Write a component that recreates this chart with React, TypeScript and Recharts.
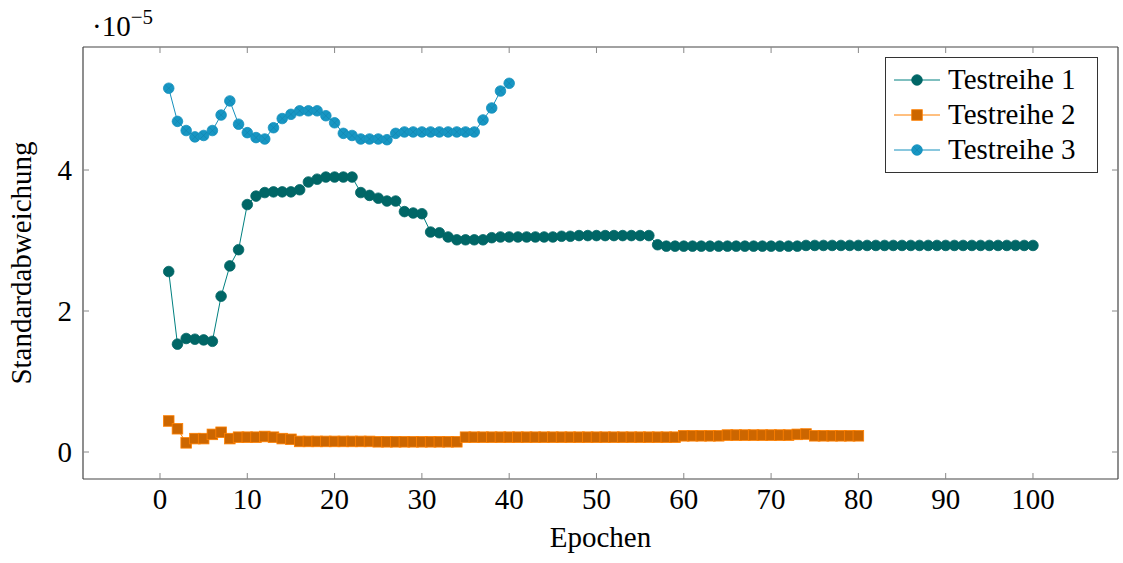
import { Line, LineChart, XAxis, YAxis } from 'recharts'

// values in units of 1e-5
const EPOCHS = Array.from({ length: 100 }, (_, i) => i + 1)

const TESTREIHE_1 = [
  2.56, 1.53, 1.61, 1.6, 1.59, 1.57, 2.21, 2.64, 2.87, 3.51,
  3.63, 3.68, 3.69, 3.69, 3.69, 3.72, 3.83, 3.87, 3.9, 3.9,
  3.9, 3.9, 3.68, 3.64, 3.6, 3.56, 3.56, 3.41, 3.39, 3.38,
  3.12, 3.11, 3.05, 3.01, 3.01, 3.01, 3.01, 3.04, 3.05, 3.05,
  3.05, 3.05, 3.05, 3.05, 3.05, 3.06, 3.06, 3.07, 3.07, 3.07,
  3.07, 3.07, 3.07, 3.07, 3.07, 3.07, 2.94, 2.92, 2.92, 2.92,
  2.92, 2.92, 2.92, 2.92, 2.92, 2.92, 2.92, 2.92, 2.92, 2.92,
  2.92, 2.92, 2.92, 2.93, 2.93, 2.93, 2.93, 2.93, 2.93, 2.93,
  2.93, 2.93, 2.93, 2.93, 2.93, 2.93, 2.93, 2.93, 2.93, 2.93,
  2.93, 2.93, 2.93, 2.93, 2.93, 2.93, 2.93, 2.93, 2.93, 2.93,
]

const TESTREIHE_2 = [
  0.44, 0.33, 0.13, 0.19, 0.19, 0.25, 0.28, 0.19, 0.21, 0.21,
  0.21, 0.22, 0.21, 0.19, 0.18, 0.15, 0.15, 0.15, 0.15, 0.15,
  0.15, 0.15, 0.15, 0.15, 0.145, 0.145, 0.145, 0.145, 0.145, 0.145,
  0.145, 0.145, 0.145, 0.145, 0.21, 0.21, 0.21, 0.21, 0.21, 0.21,
  0.21, 0.21, 0.21, 0.21, 0.21, 0.21, 0.21, 0.21, 0.21, 0.21,
  0.21, 0.21, 0.21, 0.21, 0.21, 0.21, 0.21, 0.21, 0.21, 0.23,
  0.23, 0.23, 0.23, 0.23, 0.24, 0.24, 0.24, 0.24, 0.24, 0.24,
  0.24, 0.24, 0.25, 0.255, 0.23, 0.23, 0.23, 0.23, 0.23, 0.23,
]

const TESTREIHE_3 = [
  5.16, 4.69, 4.56, 4.47, 4.49, 4.56, 4.78, 4.98, 4.65, 4.53,
  4.46, 4.44, 4.6, 4.73, 4.79, 4.84, 4.84, 4.84, 4.77, 4.67,
  4.52, 4.49, 4.44, 4.44, 4.44, 4.43, 4.52, 4.54, 4.54, 4.54,
  4.54, 4.54, 4.54, 4.54, 4.54, 4.54, 4.71, 4.88, 5.12, 5.23,
]

const X_TICKS = [0, 10, 20, 30, 40, 50, 60, 70, 80, 90, 100]
const Y_TICKS = [0, 2, 4]
const X_DOMAIN = [-8.82, 109.74]
const Y_DOMAIN = [-0.383, 5.745]

const data = EPOCHS.map((epoch, i) => ({
  epoch,
  t1: TESTREIHE_1[i],
  t2: TESTREIHE_2[i],
  t3: TESTREIHE_3[i],
}))

const SERIES = [
  { key: 't1', name: 'Testreihe 1', line: '#008080', fill: '#006666', stroke: '#006666', shape: 'circle' },
  { key: 't2', name: 'Testreihe 2', line: '#ff8000', fill: '#cc6600', stroke: '#ff8000', shape: 'square' },
  { key: 't3', name: 'Testreihe 3', line: '#1590bd', fill: '#1796c3', stroke: '#1590bd', shape: 'otimes' },
]

const FONT = '"Liberation Serif", "Times New Roman", serif'

function Marker({ cx, cy, s }: { cx: number; cy: number; s: (typeof SERIES)[number] }) {
  const r = 5.3
  if (s.shape === 'square') {
    return <rect x={cx - r} y={cy - r} width={2 * r} height={2 * r} fill={s.fill} stroke={s.stroke} strokeWidth={0.8} />
  }
  const d = r * 0.7
  return (
    <g>
      <circle cx={cx} cy={cy} r={r} fill={s.fill} stroke={s.stroke} strokeWidth={0.8} />
      {s.shape === 'otimes' && (
        <path
          d={`M${cx - d},${cy - d}L${cx + d},${cy + d}M${cx - d},${cy + d}L${cx + d},${cy - d}`}
          stroke="#1383ad"
          strokeWidth={0.6}
        />
      )}
    </g>
  )
}

const makeDot = (s: (typeof SERIES)[number]) => (props: any) => {
  const { cx, cy, index, value } = props
  if (cx == null || cy == null || value == null) return <g key={index} />
  return (
    <g key={index}>
      <Marker cx={cx} cy={cy} s={s} />
    </g>
  )
}

// legend box drawn as overlay so it doesn't eat plot space
const LegendBox = () => (
  <div
    style={{
      position: 'absolute',
      left: 885,
      top: 57,
      width: 213,
      height: 116,
      border: '1px solid #333',
      background: '#fff',
      padding: '4px 0',
      fontFamily: FONT,
      boxSizing: 'border-box',
    }}
  >
    {SERIES.map((s) => (
      <div key={s.key} style={{ display: 'flex', alignItems: 'center', height: 35, paddingLeft: 8 }}>
        <svg width={46} height={20} style={{ overflow: 'visible' }}>
          <line x1={0} x2={46} y1={10} y2={10} stroke={s.line} strokeWidth={1} />
          <Marker cx={23} cy={10} s={s} />
        </svg>
        <span style={{ marginLeft: 8, fontSize: 29, color: '#000', lineHeight: '35px' }}>{s.name}</span>
      </div>
    ))}
  </div>
)

const axisLine = { stroke: '#444', strokeWidth: 1.2 }
const tickLine = { stroke: '#888', strokeWidth: 1 }

export default function App() {
  return (
    <div style={{ position: 'absolute', left: 0, top: 0, width: 1123, height: 563, fontFamily: FONT, background: '#fff' }}>
      <LineChart width={1123} height={563} data={data} margin={{ top: 17, right: 0, bottom: 0, left: 0 }}>
        <XAxis
          xAxisId="b"
          dataKey="epoch"
          type="number"
          domain={X_DOMAIN}
          allowDataOverflow
          ticks={X_TICKS}
          height={84}
          tickSize={-6}
          tickMargin={15}
          tick={{ fill: '#000', fontSize: 29, fontFamily: FONT }}
          axisLine={axisLine}
          tickLine={tickLine}
          label={{ value: 'Epochen', position: 'insideBottom', offset: 16, fill: '#000', fontSize: 29, fontFamily: FONT }}
        />
        <XAxis
          xAxisId="t"
          orientation="top"
          dataKey="epoch"
          type="number"
          domain={X_DOMAIN}
          allowDataOverflow
          ticks={X_TICKS}
          height={30}
          tickSize={-6}
          tickFormatter={() => ''}
          axisLine={axisLine}
          tickLine={tickLine}
        />
        <YAxis
          yAxisId="l"
          type="number"
          domain={Y_DOMAIN}
          allowDataOverflow
          ticks={Y_TICKS}
          width={83}
          tickSize={-6}
          tickMargin={17}
          tick={{ fill: '#000', fontSize: 29, fontFamily: FONT }}
          axisLine={axisLine}
          tickLine={tickLine}
          label={{
            value: 'Standardabweichung',
            angle: -90,
            position: 'insideLeft',
            offset: 21,
            fill: '#000',
            fontSize: 29,
            fontFamily: FONT,
            style: { textAnchor: 'middle' },
          }}
        />
        <YAxis
          yAxisId="r"
          orientation="right"
          type="number"
          domain={Y_DOMAIN}
          allowDataOverflow
          ticks={Y_TICKS}
          width={5}
          tickSize={-6}
          tickFormatter={() => ''}
          axisLine={axisLine}
          tickLine={tickLine}
        />
        {SERIES.map((s) => (
          <Line
            key={s.key}
            xAxisId="b"
            yAxisId="l"
            dataKey={s.key}
            name={s.name}
            stroke={s.line}
            strokeWidth={1}
            dot={makeDot(s)}
            activeDot={false}
            isAnimationActive={false}
          />
        ))}
      </LineChart>
      <LegendBox />
      <svg width={200} height={45} style={{ position: 'absolute', left: 0, top: 0 }}>
        <text x={92} y={36} fontFamily={FONT} fontSize={29} fill="#000">
          ·10
          <tspan dy={-12} fontSize={21}>
            −5
          </tspan>
        </text>
      </svg>
    </div>
  )
}
